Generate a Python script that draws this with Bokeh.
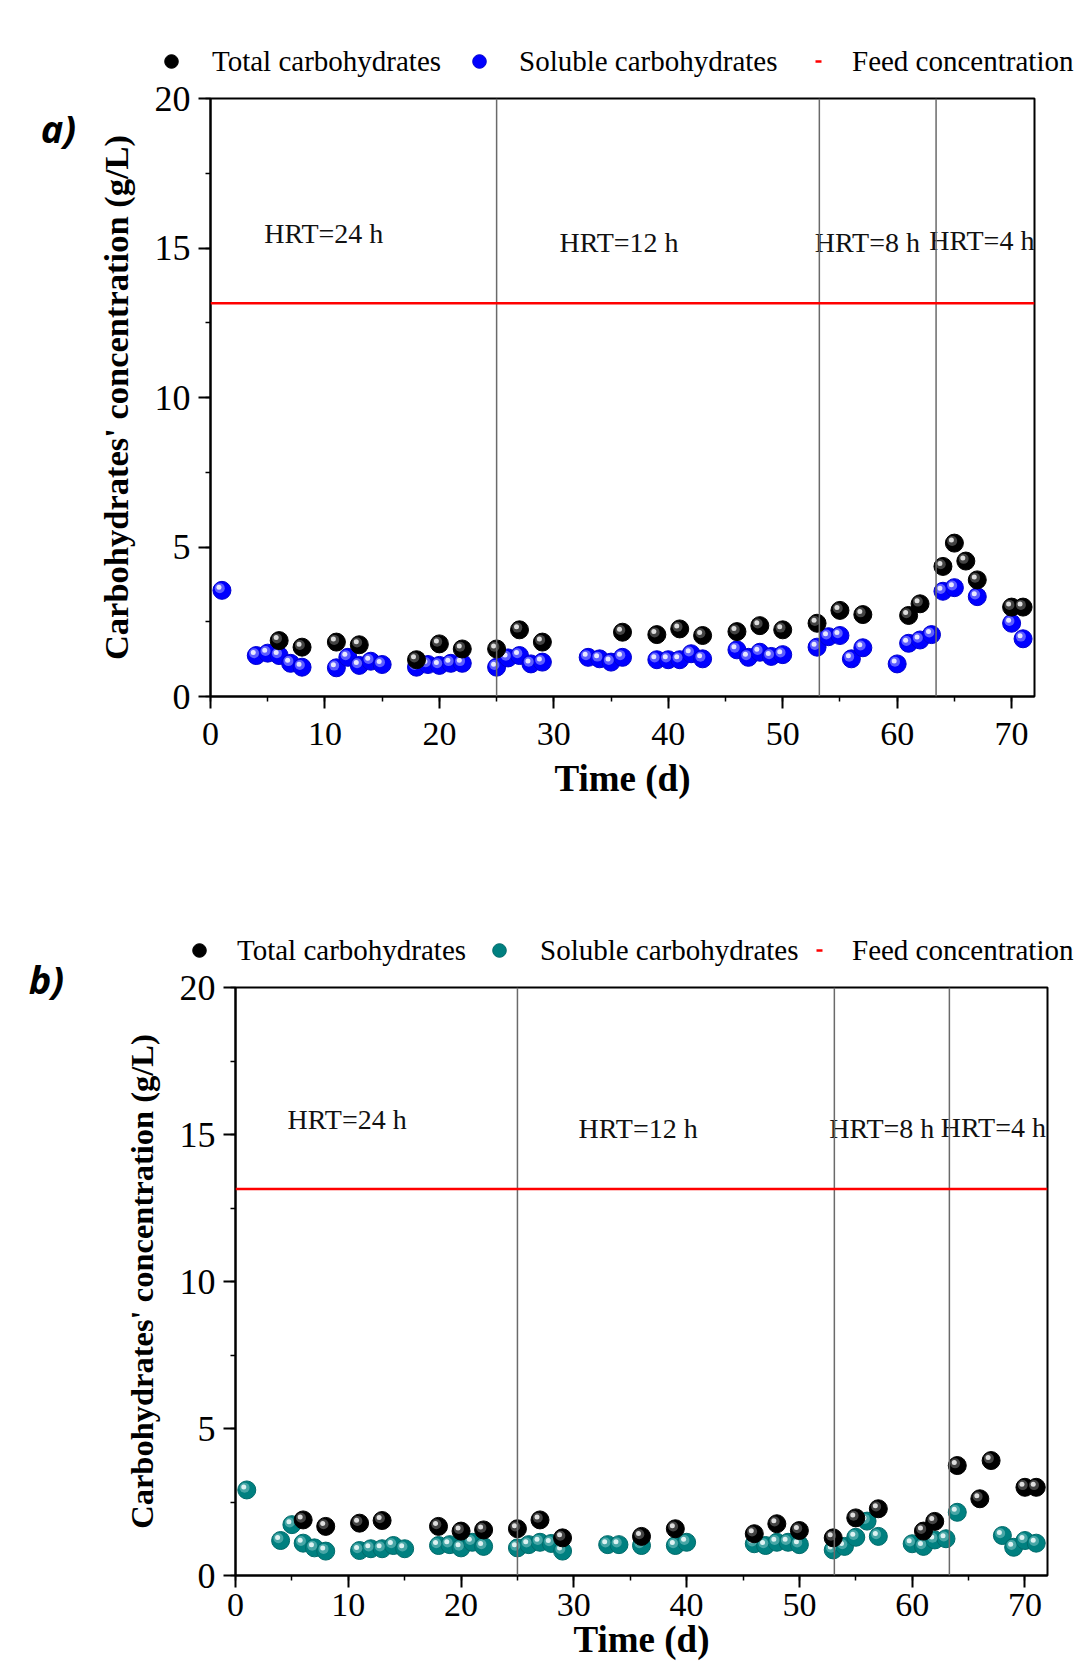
from bokeh.plotting import figure
from bokeh.models import Span, Legend, LegendItem, Label, SingleIntervalTicker, Range1d
from bokeh.layouts import column, row
from bokeh.embed import file_html
from bokeh.resources import INLINE
from bokeh.core.properties import value

# ---------------- data ----------------
FEED = 13.15
HRT_LABELS = ["HRT=24 h", "HRT=12 h", "HRT=8 h", "HRT=4 h"]
LEGEND_LABELS = ["Total carbohydrates", "Soluble carbohydrates", "Feed concentration"]

# panel a
a_sol_days = [1, 4, 5, 6, 7, 8, 11, 12, 13, 14, 15, 18, 19, 20, 21, 22, 25, 26, 27, 28, 29,
              33, 34, 35, 36, 39, 40, 41, 42, 43, 46, 47, 48, 49, 50, 53, 54, 55, 56, 57,
              60, 61, 62, 63, 64, 65, 67, 70, 71]
a_sol_vals = [3.55, 1.37, 1.45, 1.37, 1.11, 0.98, 0.96, 1.31, 1.04, 1.18, 1.07, 0.98, 1.07, 1.04,
              1.11, 1.11, 0.98, 1.29, 1.37, 1.09, 1.15, 1.31, 1.26, 1.15, 1.31, 1.23, 1.23, 1.23,
              1.43, 1.26, 1.56, 1.31, 1.48, 1.34, 1.40, 1.65, 2.00, 2.04, 1.26, 1.63, 1.09, 1.78,
              1.89, 2.07, 3.52, 3.64, 3.34, 2.45, 1.93]
a_tot_days = [6, 8, 11, 13, 18, 20, 22, 25, 27, 29, 36, 39, 41, 43, 46, 48, 50, 53, 55, 57,
              61, 62, 64, 65, 66, 67, 70, 71]
a_tot_vals = [1.87, 1.65, 1.82, 1.73, 1.23, 1.76, 1.59, 1.59, 2.23, 1.82, 2.15, 2.07, 2.26, 2.04,
              2.17, 2.37, 2.23, 2.45, 2.88, 2.74, 2.71, 3.10, 4.35, 5.13, 4.53, 3.90, 2.99, 2.99]
a_hrt_bounds = [25, 53.2, 63.4]
a_hrt_x = [9.9, 35.7, 57.4, 67.4]
a_hrt_y = [15.5, 15.2, 15.2, 15.25]

# panel b
b_sol_days = [1, 4, 5, 6, 7, 8, 11, 12, 13, 14, 15, 18, 19, 20, 21, 22, 25, 26, 27, 28, 29,
              33, 34, 36, 39, 40, 46, 47, 48, 49, 50, 53, 54, 55, 56, 57, 60, 61, 62, 63, 64,
              68, 69, 70, 71]
b_sol_vals = [2.91, 1.19, 1.73, 1.10, 0.94, 0.83, 0.85, 0.91, 0.91, 1.02, 0.91, 1.02, 1.05, 0.94,
              1.13, 0.99, 0.94, 1.05, 1.13, 1.09, 0.83, 1.05, 1.05, 1.02, 1.02, 1.13, 1.08, 1.02,
              1.13, 1.13, 1.05, 0.87, 0.99, 1.30, 1.85, 1.33, 1.08, 0.99, 1.21, 1.25, 2.15,
              1.36, 0.96, 1.19, 1.10]
b_tot_days = [6, 8, 11, 13, 18, 20, 22, 25, 27, 29, 36, 39, 46, 48, 50, 53, 55, 57, 61, 62,
              64, 66, 67, 70, 71]
b_tot_vals = [1.89, 1.67, 1.78, 1.87, 1.67, 1.51, 1.55, 1.59, 1.89, 1.28, 1.33, 1.59, 1.42, 1.76,
              1.53, 1.28, 1.96, 2.27, 1.51, 1.84, 3.74, 2.61, 3.91, 3.00, 3.00]
b_hrt_bounds = [25, 53.1, 63.3]
b_hrt_x = [9.9, 35.7, 57.3, 67.2]
b_hrt_y = [15.5, 15.2, 15.2, 15.25]

FONT = "Liberation Serif"
XMAX, YMAX = 72, 20
PAGE_W = 1076
STRIP_W = 88
BODY_W = PAGE_W - STRIP_W

BLUE = ("#0000ff", "#0000d0", "#7c7cff", "#eeeeff")
TEAL = ("#008080", "#006a6a", "#5fb3b3", "#e6f6f6")
BLACK = ("#000000", "#000000", "#5a5a5a", "#e6e6e6")


def blank(width, height):
    f = figure(width=width, height=height, x_range=Range1d(0, width), y_range=Range1d(0, height),
               x_axis_type=None, y_axis_type=None, output_backend="svg", toolbar_location=None,
               min_border=0, frame_align=False)
    f.grid.visible = False
    f.outline_line_color = None
    return f


def header(height, sol_colors, items):
    h = blank(BODY_W, height)
    r_tot = h.scatter(x=[0], y=[0], size=14, fill_color=BLACK[0], line_color=BLACK[1], visible=False)
    r_sol = h.scatter(x=[0], y=[0], size=14, fill_color=sol_colors[0], line_color=sol_colors[1],
                      visible=False)
    r_feed = h.line(x=[0, 1], y=[0, 0], line_color="#ff0000", line_width=2.5,
                    line_dash="0 14 6 14", visible=False)
    for lab, rend, (vx, vy, st) in zip(LEGEND_LABELS, [r_tot, r_sol, r_feed], items):
        lg = Legend(items=[LegendItem(label=lab, renderers=[rend])], location=(vx, vy),
                    orientation="horizontal", glyph_width=34, glyph_height=34, label_height=34,
                    label_standoff=st, padding=0, margin=0, spacing=0,
                    border_line_alpha=0, background_fill_alpha=0, inactive_fill_alpha=0,
                    label_text_font=FONT, label_text_font_size="29px", label_text_color="black")
        h.add_layout(lg)
    return h


def strip(height, text, xy):
    s = blank(STRIP_W, height)
    s.add_layout(Label(x=xy[0], y=xy[1], text=text, text_font="Open Sans",
                       text_font_style="bold italic", text_font_size="38px",
                       text_align="center", text_baseline="middle", text_color="black"))
    return s


def sphere(p, xs, ys, colors, pxx, pxy, size=18):
    base, edge, mid, light = colors
    r = p.scatter(xs, ys, size=size, fill_color=base, line_color=edge, line_width=1)
    mx = [x - 2.2 * pxx for x in xs]
    my = [y + 2.2 * pxy for y in ys]
    p.scatter(mx, my, size=10, fill_color=mid, line_alpha=0, fill_alpha=0.75)
    lx = [x - 3.0 * pxx for x in xs]
    ly = [y + 3.0 * pxy for y in ys]
    p.scatter(lx, ly, size=5, fill_color=light, line_alpha=0, fill_alpha=0.95)
    return r


def main(height, bl, br, bt, bb, sol_d, sol_v, tot_d, tot_v, sol_colors, bounds, hx, hy,
         ylab_size, ylab_standoff, xlab_standoff, xtick_standoff):
    w = BODY_W
    p = figure(width=w, height=height, x_range=Range1d(0, XMAX), y_range=Range1d(0, YMAX),
               output_backend="svg", toolbar_location=None, frame_align=False,
               min_border_left=bl, min_border_right=br, min_border_top=bt, min_border_bottom=bb)
    fw = w - bl - br
    fh = height - bt - bb
    pxx, pxy = XMAX / fw, YMAX / fh
    p.xgrid.visible = False
    p.ygrid.visible = False
    p.outline_line_color = "black"
    p.outline_line_width = 2
    p.outline_line_alpha = 1

    for b in bounds:
        p.add_layout(Span(location=b, dimension="height", line_color="#6a6a6a", line_width=1.5))
    p.add_layout(Span(location=FEED, dimension="width", line_color="#ff0000", line_width=2.5))

    p.text(x=hx, y=hy, text=HRT_LABELS, text_font=value(FONT), text_font_size="28px",
           text_align="center", text_baseline="middle", text_color="#111111")

    sphere(p, sol_d, sol_v, sol_colors, pxx, pxy)
    sphere(p, tot_d, tot_v, BLACK, pxx, pxy)

    for ax in (p.xaxis, p.yaxis):
        ax.axis_line_width = 2
        ax.axis_line_color = "black"
        ax.major_tick_line_width = 2
        ax.major_tick_line_color = "black"
        ax.minor_tick_line_width = 1.5
        ax.minor_tick_line_color = "black"
        ax.major_tick_in = 0
        ax.major_tick_out = 12
        ax.minor_tick_in = 0
        ax.minor_tick_out = 5
        ax.major_label_text_font = FONT
        ax.major_label_text_color = "black"
        ax.axis_label_text_font = FONT
        ax.axis_label_text_font_style = "bold"
        ax.axis_label_text_color = "black"
    p.xaxis.major_label_text_font_size = "34px"
    p.yaxis.major_label_text_font_size = "36px"
    p.xaxis.major_label_standoff = xtick_standoff
    p.yaxis.major_label_standoff = 8
    p.xaxis.ticker = SingleIntervalTicker(interval=10, num_minor_ticks=2)
    p.yaxis.ticker = SingleIntervalTicker(interval=5, num_minor_ticks=2)
    p.xaxis.axis_label = "Time (d)"
    p.xaxis.axis_label_text_font_size = "37px"
    p.xaxis.axis_label_standoff = xlab_standoff
    p.yaxis.axis_label = "Carbohydrates' concentration (g/L)"
    p.yaxis.axis_label_text_font_size = ylab_size
    p.yaxis.axis_label_standoff = ylab_standoff
    return p


# panel a : page y 0-840 ; header 0-78, plot 78-840
hdr_a = header(78, BLUE, [(66, 0, 24), (374, 0, 23), (713, 0, 17)])
main_a = main(762, 122, 42, 20, 144, a_sol_days, a_sol_vals, a_tot_days, a_tot_vals, BLUE,
              a_hrt_bounds, a_hrt_x, a_hrt_y, "34.5px", 17, 10, 14)
str_a = strip(840, "a)", (58, 713))

# panel b : page y 840-1672 ; header 840-967, plot 967-1672
hdr_b = header(127, TEAL, [(94, 0, 21), (394, 0, 24), (714, 0, 16)])
main_b = main(705, 147, 29, 20, 97, b_sol_days, b_sol_vals, b_tot_days, b_tot_vals, TEAL,
              b_hrt_bounds, b_hrt_x, b_hrt_y, "32.5px", 17, 0, 6)
str_b = strip(832, "b)", (46, 694))

layout = column(
    row(str_a, column(hdr_a, main_a, spacing=0), spacing=0),
    row(str_b, column(hdr_b, main_b, spacing=0), spacing=0),
    spacing=0)
open("out.html", "w").write(file_html(layout, INLINE))
